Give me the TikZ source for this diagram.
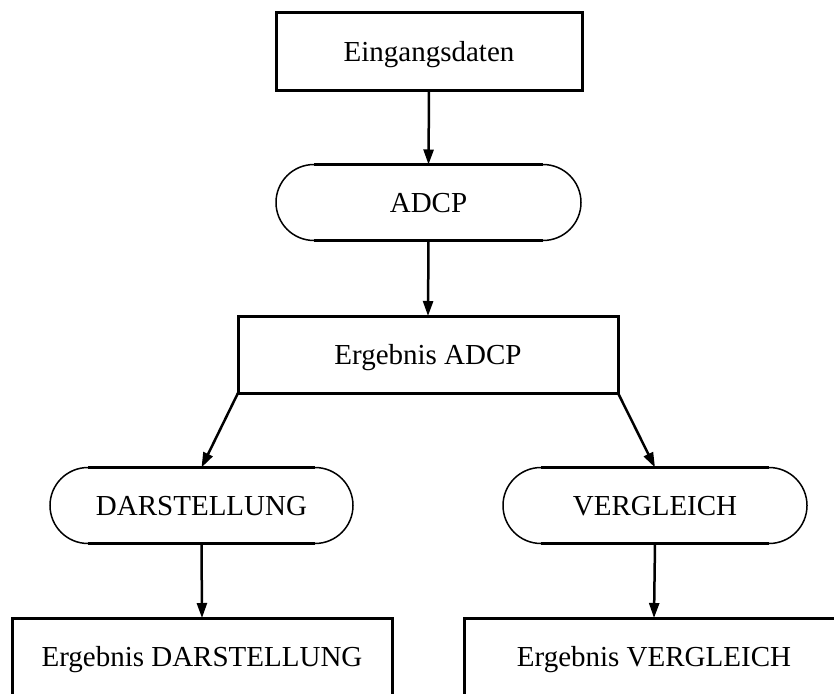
\documentclass[tikz,border=0pt]{standalone}
\usepackage{fontspec}
\setmainfont{Liberation Serif}
\usetikzlibrary{arrows.meta}
\begin{document}
\begin{tikzpicture}[x=1pt,y=1pt,
  every node/.style={font=\fontsize{29}{34}\selectfont, text height=19.2pt, text depth=0pt, inner sep=0pt, outer sep=0pt},
  box/.style={draw, line width=3pt, minimum width=380pt, minimum height=77pt},
  stad/.style={minimum width=304pt, minimum height=76pt},
  arcline/.style={line width=1.5pt},
  edgeline/.style={line width=3pt},
  conn/.style={line width=2.5pt, -{Triangle[length=15pt,width=10pt]}}
]
\useasboundingbox (0,0) rectangle (834,-693);
\node[box, minimum width=306pt] (ein) at (429,-51.5) {Eingangsdaten};
\node[stad, minimum width=305pt] (adcp) at (428.5,-202.5) {ADCP};
\node[box] (erg) at (428,-354.5) {Ergebnis ADCP};
\node[stad, minimum width=303pt] (dar) at (201.5,-505.5) {DARSTELLUNG};
\node[stad] (ver) at (655,-505.5) {VERGLEICH};
\node[box] (ergdar) at (202,-656.5) {Ergebnis DARSTELLUNG};
\node[box] (ergver) at (654,-656.5) {Ergebnis VERGLEICH};
\foreach \n in {adcp,dar,ver}{
  \draw[edgeline] ([xshift=38pt]\n.north west) -- ([xshift=-38pt]\n.north east);
  \draw[edgeline] ([xshift=38pt]\n.south west) -- ([xshift=-38pt]\n.south east);
  \draw[arcline] ([xshift=38pt]\n.north west) arc[start angle=90,end angle=270,radius=38pt];
  \draw[arcline] ([xshift=-38pt]\n.south east) arc[start angle=-90,end angle=90,radius=38pt];
}
\draw[conn] (ein.south) -- (adcp.north);
\draw[conn] (adcp.south) -- (erg.north);
\draw[conn] (erg.south west) -- (dar.north);
\draw[conn] (erg.south east) -- (ver.north);
\draw[conn] (dar.south) -- (ergdar.north);
\draw[conn] (ver.south) -- (ergver.north);
\end{tikzpicture}
\end{document}
